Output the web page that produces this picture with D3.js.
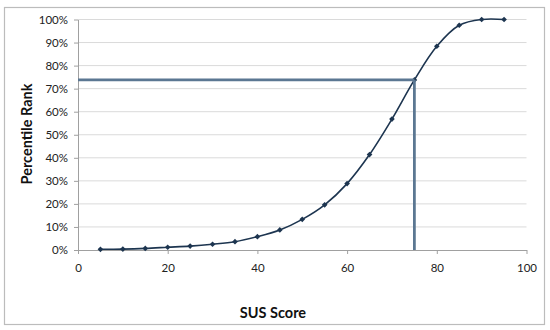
<!DOCTYPE html>
<html>
<head>
<meta charset="utf-8">
<script src="https://cdn.jsdelivr.net/npm/d3@7"></script>
<style>
  body { margin: 0; background: #fff; }
  svg text { font-family: Lato, "Open Sans", sans-serif; }
</style>
</head>
<body>
<svg id="mainsvg" width="550" height="330"></svg>
<script>
// SUS score vs percentile rank
const susScores = [5, 10, 15, 20, 25, 30, 35, 40, 45, 50, 55, 60, 65, 70, 75, 80, 85, 90, 95];
const percentiles = [0.3, 0.4, 0.7, 1.2, 1.7, 2.5, 3.6, 5.8, 8.7, 13.3, 19.6, 28.8, 41.4, 56.8, 73.8, 88.4, 97.5, 100, 100];
const xTicks = [0, 20, 40, 60, 80, 100];
const yTicks = [0, 10, 20, 30, 40, 50, 60, 70, 80, 90, 100];
const refScore = 75;
const refRank = 73.8;

const svg = d3.select('#mainsvg');
const margin = {top: 19.5, left: 78, right: 23.5, bottom: 80};
const width = 550 - margin.left - margin.right;
const height = 330 - margin.top - margin.bottom;

// outer frame
svg.append('rect')
  .attr('x', 4.5).attr('y', 7.5)
  .attr('width', 540).attr('height', 317)
  .attr('fill', '#fff').attr('stroke', '#bcbcbc').attr('stroke-width', 1.2);

const g = svg.append('g').attr('transform', `translate(${margin.left},${margin.top})`);

const x = d3.scaleLinear().domain([0, 100]).range([0, width]);
const y = d3.scaleLinear().domain([0, 100]).range([height, 0]);

// gridlines
g.selectAll('.grid').data(yTicks.filter(d => d > 0)).enter().append('line')
  .attr('x1', 0).attr('x2', width)
  .attr('y1', d => y(d)).attr('y2', d => y(d))
  .attr('stroke', '#dadada').attr('stroke-width', 1);

// y axis
const yAxis = g.append('g')
  .call(d3.axisLeft(y).tickValues(yTicks).tickFormat(d => d + '%').tickSize(4).tickSizeOuter(0));
yAxis.select('.domain').attr('stroke', '#a0a0a0');
yAxis.selectAll('.tick line').attr('stroke', '#a0a0a0');
yAxis.selectAll('.tick text').attr('x', -10).style('font-size', '11.5px').attr('fill', '#222');

// x axis
const xAxis = g.append('g')
  .attr('transform', `translate(0,${height})`)
  .call(d3.axisBottom(x).tickValues(xTicks).tickSize(4).tickSizeOuter(0));
xAxis.select('.domain').attr('stroke', '#a0a0a0');
xAxis.selectAll('.tick line').attr('stroke', '#a0a0a0');
xAxis.selectAll('.tick text').attr('y', 14).style('font-size', '11.5px').attr('fill', '#222');

// curve
const data = susScores.map((s, i) => ({s: s, p: percentiles[i]}));
const line = d3.line().x(d => x(d.s)).y(d => y(d.p)).curve(d3.curveCatmullRom.alpha(0.5));
g.append('path').datum(data)
  .attr('d', line)
  .attr('fill', 'none').attr('stroke', '#1d3550').attr('stroke-width', 1.6);

g.selectAll('.pt').data(data).enter().append('path')
  .attr('class', 'pt')
  .attr('transform', d => `translate(${x(d.s)},${y(d.p)}) rotate(45)`)
  .attr('d', d3.symbol().type(d3.symbolSquare).size(16))
  .attr('fill', '#1d3550');

// reference lines
g.append('line')
  .attr('x1', x(0)).attr('x2', x(refScore))
  .attr('y1', y(refRank)).attr('y2', y(refRank))
  .attr('stroke', '#5b7792').attr('stroke-width', 2.8);
g.append('line')
  .attr('x1', x(refScore)).attr('x2', x(refScore))
  .attr('y1', y(refRank)).attr('y2', y(0))
  .attr('stroke', '#5b7792').attr('stroke-width', 2.8);

// axis titles
svg.append('text')
  .attr('x', 273).attr('y', 318)
  .attr('text-anchor', 'middle')
  .style('font-size', '14.5px').style('font-weight', 'bold')
  .attr('fill', '#111')
  .text('SUS Score');

svg.append('text')
  .attr('transform', 'translate(32,134) rotate(-90)')
  .attr('text-anchor', 'middle')
  .style('font-size', '14.5px').style('font-weight', 'bold')
  .attr('fill', '#111')
  .text('Percentile Rank');
</script>
</body>
</html>
